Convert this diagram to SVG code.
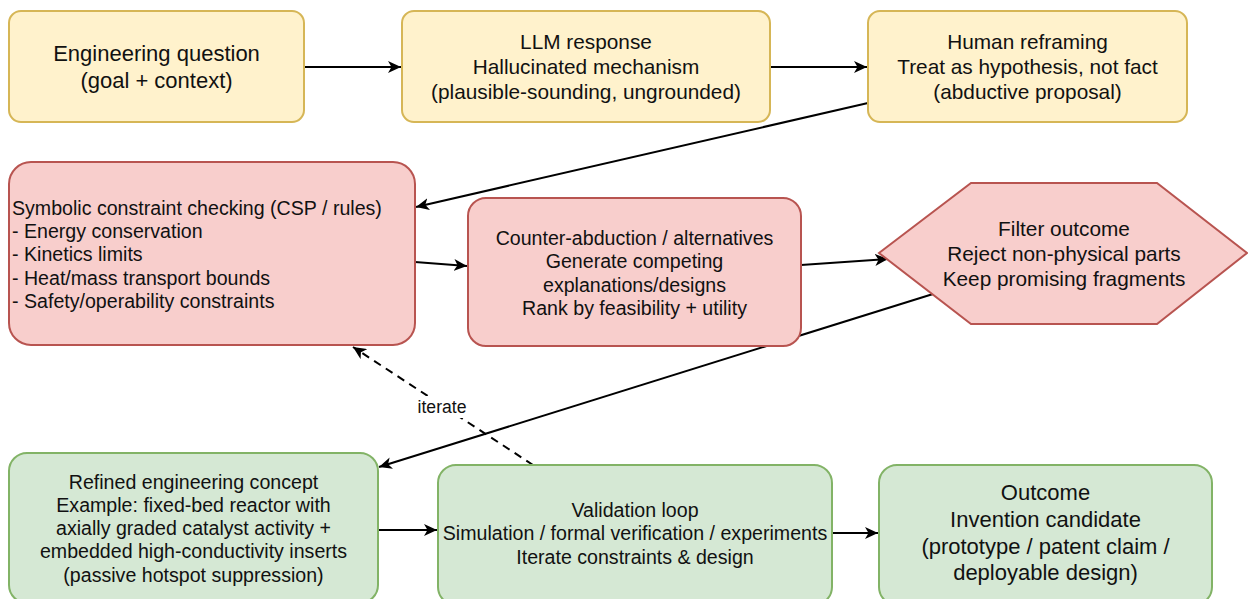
<svg xmlns="http://www.w3.org/2000/svg" width="1248" height="599" viewBox="0 0 1248 599">
<style>
text{font-family:"Liberation Sans",Arial,Helvetica,sans-serif;fill:#111;}
.t20{font-size:19.6px;text-anchor:middle;}
.t21{font-size:20.8px;text-anchor:middle;}
.t22{font-size:22px;text-anchor:middle;}
.tl{font-size:19.6px;text-anchor:start;}
.y{fill:#fff2cc;stroke:#d6b656;stroke-width:2;}
.r{fill:#f8cecc;stroke:#b85450;stroke-width:2;}
.g{fill:#d5e8d4;stroke:#82b366;stroke-width:2;}
.e{fill:none;stroke:#000;stroke-width:2;marker-end:url(#arr);}
.d{stroke-dasharray:8 6;}
</style>
<defs>
<marker id="arr" markerUnits="userSpaceOnUse" markerWidth="14" markerHeight="12" viewBox="0 0 14 12" refX="13" refY="6" orient="auto">
<path d="M0,0 L13,6 L0,12 L3.5,6 z" fill="#000"/>
</marker>
</defs>
<rect width="1248" height="599" fill="#fff"/>
<g id="connectors">
<path class="e" d="M304,67 L401,67"/>
<path class="e" d="M770,67 L867,67"/>
<path class="e" d="M868,103 L416,207"/>
<path class="e" d="M415,262 L467,266"/>
<path class="e" d="M801,265 L888,259"/>
<path class="e" d="M933,294 L379,467"/>
<path class="e" d="M378,530 L437,530"/>
<path class="e" d="M832,533 L878,533"/>
<path class="e d" d="M533,465 L353,347"/>
<rect x="413" y="396" width="58" height="22" fill="#fff"/>
<text x="442" y="413" style="font-size:17.6px;text-anchor:middle">iterate</text>
</g>
<g id="n1">
<rect class="y" x="9" y="11" width="295" height="111" rx="12"/>
<text class="t22" x="156.5" y="61">Engineering question</text>
<text class="t22" x="156.5" y="88">(goal + context)</text>
</g>
<g id="n2">
<rect class="y" x="402" y="11" width="368" height="111" rx="12"/>
<text class="t21" x="586" y="49">LLM response</text>
<text class="t21" x="586" y="74">Hallucinated mechanism</text>
<text class="t21" x="586" y="99">(plausible-sounding, ungrounded)</text>
</g>
<g id="n3">
<rect class="y" x="868" y="11" width="319" height="111" rx="12"/>
<text class="t21" x="1027.5" y="49">Human reframing</text>
<text class="t21" x="1027.5" y="74">Treat as hypothesis, not fact</text>
<text class="t21" x="1027.5" y="99">(abductive proposal)</text>
</g>
<g id="n4">
<rect class="r" x="9" y="162" width="406" height="183" rx="22"/>
<text class="tl" x="12" y="215">Symbolic constraint checking (CSP / rules)</text>
<text class="tl" x="12" y="238">- Energy conservation</text>
<text class="tl" x="12" y="261">- Kinetics limits</text>
<text class="tl" x="12" y="285">- Heat/mass transport bounds</text>
<text class="tl" x="12" y="308">- Safety/operability constraints</text>
</g>
<g id="n5">
<rect class="r" x="468" y="198" width="333" height="148" rx="18"/>
<text class="t20" x="634.5" y="245">Counter-abduction / alternatives</text>
<text class="t20" x="634.5" y="268">Generate competing</text>
<text class="t20" x="634.5" y="292">explanations/designs</text>
<text class="t20" x="634.5" y="315">Rank by feasibility + utility</text>
</g>
<g id="n6">
<polygon class="r" points="879,253 971,183 1157,183 1247,253 1157,324 971,324"/>
<text class="t21" x="1064" y="236">Filter outcome</text>
<text class="t21" x="1064" y="261">Reject non-physical parts</text>
<text class="t21" x="1064" y="286">Keep promising fragments</text>
</g>
<g id="n7">
<rect class="g" x="9" y="453" width="369" height="150" rx="18"/>
<text class="t20" x="193.5" y="489">Refined engineering concept</text>
<text class="t20" x="193.5" y="512">Example: fixed-bed reactor with</text>
<text class="t20" x="193.5" y="535">axially graded catalyst activity +</text>
<text class="t20" x="193.5" y="558">embedded high-conductivity inserts</text>
<text class="t20" x="193.5" y="582">(passive hotspot suppression)</text>
</g>
<g id="n8">
<rect class="g" x="438" y="465" width="394" height="140" rx="18"/>
<text class="t20" x="635" y="517">Validation loop</text>
<text class="t20" x="635" y="540">Simulation / formal verification / experiments</text>
<text class="t20" x="635" y="564">Iterate constraints &amp; design</text>
</g>
<g id="n9">
<rect class="g" x="879" y="465" width="333" height="140" rx="18"/>
<text class="t22" x="1045.5" y="500">Outcome</text>
<text class="t22" x="1045.5" y="527">Invention candidate</text>
<text class="t22" x="1045.5" y="554">(prototype / patent claim /</text>
<text class="t22" x="1045.5" y="580">deployable design)</text>
</g>
</svg>
